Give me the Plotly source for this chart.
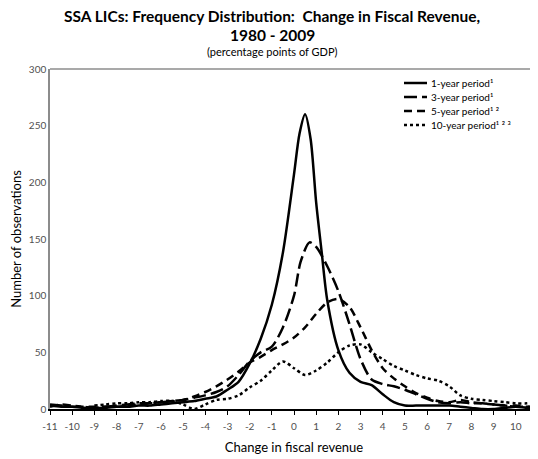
import plotly.graph_objects as go

# ---- data ----
x_1yr = [-11,-10.5,-10,-9.5,-9,-8.5,-8,-7.5,-7,-6.5,-6,-5.5,-5,-4.5,-4,-3.5,-3,-2.5,-2,-1.5,-1,-0.5,
         0,0.25,0.5,0.75,1,1.25,1.5,
         2,2.5,3,3.5,4,4.5,5,5.5,6,6.5,7,7.5,8,8.5,9,9.5,10,10.5,11]
y_1yr = [3,2,2,1,1,1,2,2,3,3,4,5,6,7,9,11,17,24,40,62,92,138,
         207,243,260,238,182,138,96,
         52,32,24,21,13,6,3,3,3,3,3,2,1,0,0,1,2,1,1]

x_3yr = [-11,-10.5,-10,-9.5,-9,-8.5,-8,-7.5,-7,-6.5,-6,-5.5,-5,-4.5,-4,-3.5,-3,-2.5,-2,-1.5,-1,-0.5,
         0,0.3,0.7,1,1.5,
         2,2.5,3,3.5,4,4.5,5,5.5,6,6.5,7,7.5,8,8.5,9,9.5,10,10.5,11]
y_3yr = [4,3,2,2,1,2,3,4,5,5,6,7,8,10,12,15,20,30,42,50,55,72,
         100,130,147,143,126,
         104,75,44,26,22,20,17,13,9,6,5,6,5,5,4,3,2,2,1]

x_5yr = [-11,-10.5,-10,-9.5,-9,-8.5,-8,-7.5,-7,-6.5,-6,-5.5,-5,-4.5,-4,-3.5,-3,-2.5,-2,-1.5,-1,-0.5,
         0,0.5,1,1.5,2,2.5,3,3.5,4,4.5,5,5.5,6,6.5,7,7.5,8,8.5,9,9.5,10,10.5,11]
y_5yr = [2,4,3,2,2,2,2,3,4,5,6,7,8,11,15,20,26,33,41,46,52,57,
         63,72,84,94,97,90,72,52,36,27,20,14,10,7,6,8,6,5,4,3,3,2,2]

x_10yr = [-9,-8.5,-8,-7.5,-7,-6.5,-6,-5.5,-5,-4.5,-4,-3.5,-3,-2.5,-2,-1.5,-1,-0.5,
          0,0.5,1,1.5,2,2.5,3,3.5,4,4.5,5,5.5,6,6.5,7,7.5,8,8.5,9,9.5,10,10.5,11]
y_10yr = [3,4,5,5,6,6,7,7,4,0,4,8,9,12,19,25,34,42,
          36,30,34,41,50,56,57,50,44,38,34,30,27,25,20,12,9,8,7,6,5,5,6]

x_ticks = list(range(-11, 12))
y_ticks = [0, 50, 100, 150, 200, 250, 300]

names = ["1-year period\u00b9", "3-year period\u00b9",
         "5-year period\u00b9 \u00b2", "10-year period\u00b9 \u00b2 \u00b3"]
dashes = ["solid", "13px,5px", "8px,5px", "3px,3px"]

title_lines = ["<b>SSA LICs: Frequency Distribution:  Change in Fiscal Revenue,</b>",
               "<b>1980 - 2009</b>"]
subtitle = "(percentage points of GDP)"

FONT = "Lato, Open Sans, sans-serif"
OFF = 8  # page body margin in the browser

# page-pixel layout of the plot area
PL, PR, PT, PB = 50, 538, 69, 409
PW, PH = PR - PL, PB - PT


def px_x(p):
    return (p - PL) / PW


def px_y(p):
    return (PB - p) / PH


fig = go.Figure()
series = [(x_1yr, y_1yr), (x_3yr, y_3yr), (x_5yr, y_5yr), (x_10yr, y_10yr)]
for (xs, ys), nm, dash in zip(series, names, dashes):
    fig.add_trace(go.Scatter(
        x=xs, y=ys, mode="lines", name=nm, showlegend=False,
        line=dict(color="black", width=2.5, dash=dash, shape="spline", smoothing=0.8),
        hoverinfo="skip"))

annotations = []
shapes = [dict(type="line", xref="paper", yref="paper", x0=0, x1=1, y0=1, y1=1,
               line=dict(color="#8c8c8c", width=1.5))]

# titles
for txt, py, sz in [(title_lines[0], 16, 15.5), (title_lines[1], 35, 15.5), (subtitle, 52, 11)]:
    annotations.append(dict(text=txt, x=px_x(272), xref="paper", xanchor="center",
                            y=px_y(py), yref="paper", yanchor="middle", showarrow=False,
                            font=dict(family=FONT, size=sz, color="black")))

# legend (keys + labels)
for i, (nm, dash) in enumerate(zip(names, dashes)):
    py = 83 + 14 * i
    shapes.append(dict(type="line", xref="paper", yref="paper",
                       x0=px_x(404), x1=px_x(427), y0=px_y(py), y1=px_y(py),
                       line=dict(color="black", width=2.5, dash=dash)))
    annotations.append(dict(text=nm, x=px_x(429), xref="paper", xanchor="left",
                            y=px_y(py), yref="paper", yanchor="middle", showarrow=False,
                            font=dict(family=FONT, size=10, color="black")))

fig.update_layout(
    width=538 - OFF, height=459 - OFF,
    margin=dict(l=PL - OFF, r=0, t=PT - OFF, b=459 - PB, autoexpand=False),
    paper_bgcolor="white", plot_bgcolor="white",
    showlegend=False,
    xaxis=dict(range=[-11, 11], tickvals=x_ticks, ticktext=[str(v) for v in x_ticks],
               showgrid=False, zeroline=False, showline=True, linecolor="black", linewidth=1.5,
               ticks="outside", ticklen=4, tickcolor="black", ticklabelstandoff=3,
               tickfont=dict(family=FONT, size=10, color="#505050"),
               title=dict(text="Change in fiscal revenue", standoff=12,
                          font=dict(family=FONT, size=13, color="black")),
               automargin=False),
    yaxis=dict(range=[0, 300], tickvals=y_ticks, showgrid=False, zeroline=False,
               showline=True, linecolor="#8c8c8c", linewidth=1.5, ticks="",
               tickfont=dict(family=FONT, size=10, color="#505050"),
               title=dict(text="Number of observations", standoff=5,
                          font=dict(family=FONT, size=13, color="black")),
               automargin=False),
    yaxis2=dict(range=[0, 300], tickvals=y_ticks, overlaying="y", anchor="free",
                position=0.5, side="left", showgrid=False, zeroline=False,
                showline=True, linecolor="black", linewidth=1.5,
                ticks="outside", ticklen=4, tickcolor="black", showticklabels=False),
    annotations=annotations,
    shapes=shapes,
)

fig.write_html("out.html")
